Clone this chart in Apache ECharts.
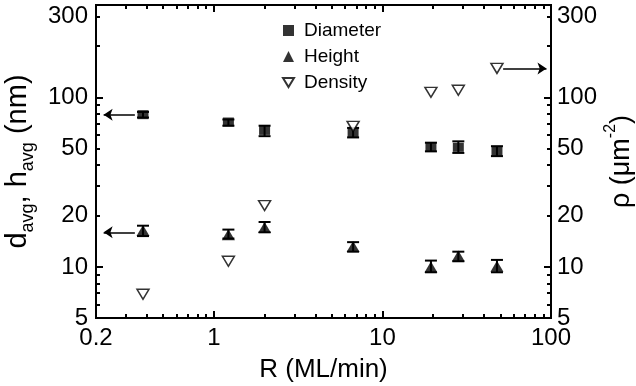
<!DOCTYPE html>
<html>
<head>
<meta charset="utf-8">
<script src="https://cdn.jsdelivr.net/npm/echarts@6/dist/echarts.min.js"></script>
<style>
html,body{margin:0;padding:0;background:#fff;}
#chart{width:636px;height:386px;}
</style>
</head>
<body>
<div id="chart"></div>
<script>
// ---- data ----
const rate = [0.38, 1.22, 2.0, 6.7, 19.4, 28.2, 47.8];
const diameter = [79, 71.5, 63.8, 62, 51, 50.7, 48];
const diameterLo = [76, 68, 59, 58, 48, 47, 45];
const diameterHi = [82, 74, 68, 66, 54, 55, 51.5];
const height = [16.4, 15.5, 17.1, 13.2, 10.0, 11.6, 10.1];
const heightLo = [15.2, 14.7, 16.0, 12.3, 9.3, 10.8, 9.3];
const heightHi = [17.5, 16.6, 18.4, 14.0, 10.9, 12.3, 11.0];
const density = [6.9, 10.8, 23, 67.4, 107, 110, 148];

const xLabels = [0.2, 1, 10, 100];
const xMinorTicks = [0.3,0.4,0.5,0.6,0.7,0.8,0.9,2,3,4,5,6,7,8,9,20,30,40,50,60,70,80,90];
const xMajorTicks = [1, 10];
const yLabels = [5, 10, 20, 50, 100, 300];
const yMinorTicks = [6,7,8,9,20,30,40,50,60,70,80,90,200,300];
const yMajorTicks = [10, 100];

// arrows: [fromX, toX, y]
const arrowDiameter = [0.34, 0.222, 79];
const arrowHeight = [0.34, 0.222, 16];
const arrowDensity = [52, 94, 148];

const FONT = 'Liberation Sans, Arial, Helvetica, sans-serif';

function makeAxis(kind, position, ticks, len, showLine, extra) {
  const base = kind === 'x'
    ? {type: 'log', logBase: 10, min: 0.2, max: 100}
    : {type: 'log', logBase: 10, min: 5, max: 350};
  return Object.assign(base, {
    position: position,
    axisLine: {show: showLine, lineStyle: {color: '#000', width: 2}},
    splitLine: {show: false},
    axisLabel: {show: false},
    axisTick: {show: true, inside: true, length: len, customValues: ticks, lineStyle: {color: '#000', width: 2}}
  }, extra || {});
}

function errRender(params, api) {
  const x = api.value(0);
  const p1 = api.coord([x, api.value(1)]);
  const p2 = api.coord([x, api.value(2)]);
  const w = 6;
  const st = {stroke: '#000', lineWidth: 2};
  return {type: 'group', children: [
    {type: 'line', shape: {x1: p1[0], y1: p1[1], x2: p2[0], y2: p2[1]}, style: st},
    {type: 'line', shape: {x1: p1[0]-w, y1: p1[1], x2: p1[0]+w, y2: p1[1]}, style: st},
    {type: 'line', shape: {x1: p2[0]-w, y1: p2[1], x2: p2[0]+w, y2: p2[1]}, style: st}
  ]};
}

const downTri = 'path://M0,0 L12,0 L6,10 Z';
const arrowLine = (a) => ({
  silent: true, symbol: ['none', 'arrow'], symbolSize: 9,
  lineStyle: {color: '#000', width: 1.5, type: 'solid'}, label: {show: false},
  data: [[{coord: [a[0], a[2]]}, {coord: [a[1], a[2]]}]]
});

const chart = echarts.init(document.getElementById('chart'));
chart.setOption({
  animation: false,
  backgroundColor: '#fff',
  grid: {left: 96, right: 85, top: 5, bottom: 68, outerBoundsMode: 'none',
    show: true, borderColor: '#000', borderWidth: 2},
  legend: {
    orient: 'vertical', left: 277, top: 16, itemGap: 7,
    itemWidth: 11, itemHeight: 11,
    textStyle: {fontSize: 19, fontFamily: FONT, color: '#000', padding: [0, 0, 0, 5]},
    data: [
      {name: 'Diameter', icon: 'rect'},
      {name: 'Height', icon: 'triangle'},
      {name: 'Density', icon: downTri}
    ]
  },
  xAxis: [
    makeAxis('x', 'bottom', xMinorTicks, 4, true, {
      axisLabel: {show: true, customValues: xLabels, fontSize: 24, fontFamily: FONT, color: '#000', margin: 8,
        formatter: v => String(v)},
      name: 'R (ML/min)', nameLocation: 'middle', nameGap: 39,
      nameTextStyle: {fontSize: 26, fontFamily: FONT, color: '#000'}}),
    makeAxis('x', 'top', xMinorTicks, 4, true),
    makeAxis('x', 'bottom', xMajorTicks, 7, false),
    makeAxis('x', 'top', xMajorTicks, 7, false)
  ],
  yAxis: [
    makeAxis('y', 'left', yMinorTicks, 4, true, {
      axisLabel: {show: true, customValues: yLabels, fontSize: 24, fontFamily: FONT, color: '#000', margin: 8,
        formatter: v => String(v)},
      name: '{t|d}{s|avg}{t|, h}{s|avg}{t| (nm)}', nameLocation: 'middle', nameGap: 57, nameRotate: 90,
      nameTextStyle: {rich: {
        t: {fontSize: 29, fontFamily: FONT, color: '#000', verticalAlign: 'top', lineHeight: 34},
        s: {fontSize: 18, fontFamily: FONT, color: '#000', verticalAlign: 'bottom', lineHeight: 22}
      }}}),
    makeAxis('y', 'right', yMinorTicks, 4, true, {
      axisLabel: {show: true, customValues: yLabels, fontSize: 24, fontFamily: FONT, color: '#000', margin: 6,
        formatter: v => String(v)},
      name: '{t|ρ (μm}{p|-2}{t|)}', nameLocation: 'middle', nameGap: 52, nameRotate: 90,
      nameMoveOverlap: false,
      nameTextStyle: {rich: {
        t: {fontSize: 27, fontFamily: FONT, color: '#000', verticalAlign: 'bottom', lineHeight: 32},
        p: {fontSize: 16, fontFamily: FONT, color: '#000', verticalAlign: 'top', lineHeight: 20}
      }}}),
    makeAxis('y', 'left', yMajorTicks, 7, false),
    makeAxis('y', 'right', yMajorTicks, 7, false)
  ],
  series: [
    {type: 'custom', name: 'dErr', xAxisIndex: 0, yAxisIndex: 0, silent: true, z: 2,
      renderItem: errRender, data: rate.map((x, i) => [x, diameterLo[i], diameterHi[i]])},
    {type: 'custom', name: 'hErr', xAxisIndex: 0, yAxisIndex: 0, silent: true, z: 2,
      renderItem: errRender, data: rate.map((x, i) => [x, heightLo[i], heightHi[i]])},
    {type: 'scatter', name: 'Diameter', xAxisIndex: 0, yAxisIndex: 0, z: 3,
      symbol: 'rect', symbolSize: [11, 9], itemStyle: {color: '#000'},
      data: rate.map((x, i) => [x, diameter[i]]), markLine: arrowLine(arrowDiameter)},
    {type: 'scatter', name: 'Height', xAxisIndex: 0, yAxisIndex: 0, z: 3,
      symbol: 'triangle', symbolSize: [13, 11], itemStyle: {color: '#000'},
      data: rate.map((x, i) => [x, height[i]]), markLine: arrowLine(arrowHeight)},
    {type: 'scatter', name: 'Density', xAxisIndex: 0, yAxisIndex: 1, z: 4,
      symbol: downTri, symbolSize: [12, 10],
      itemStyle: {color: '#fff', borderColor: '#000', borderWidth: 1.5},
      data: rate.map((x, i) => [x, density[i]]), markLine: arrowLine(arrowDensity)}
  ]
});
</script>
</body>
</html>
